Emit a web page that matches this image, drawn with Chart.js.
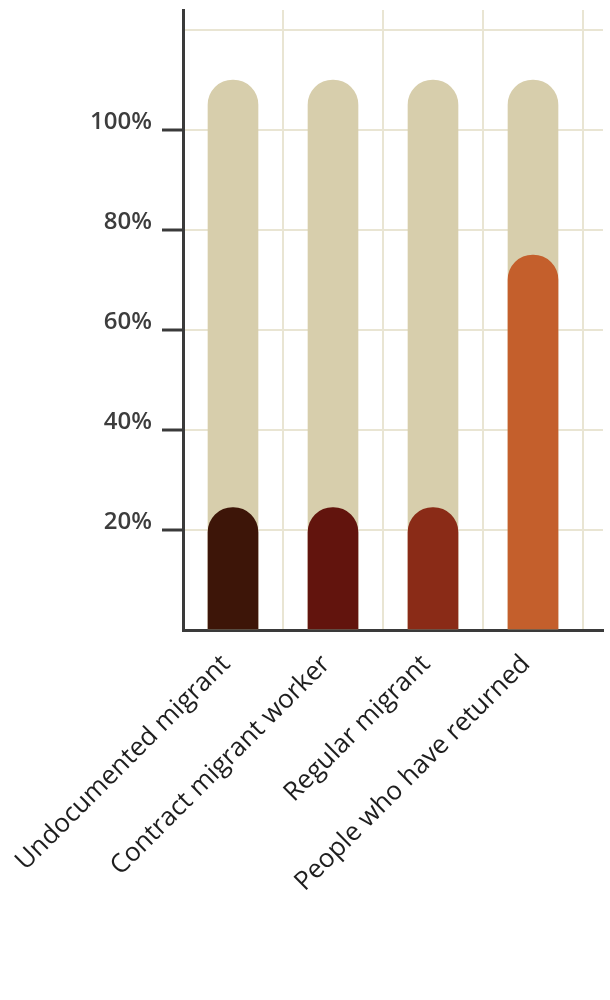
<!DOCTYPE html>
<html>
<head>
<meta charset="utf-8">
<script src="https://cdn.jsdelivr.net/npm/chart.js@4"></script>
<style>
  body { margin: 0; background: #fff; }
  #wrap { width: 610px; height: 1000px; }
</style>
</head>
<body>
<div id="wrap"><canvas id="chart" width="610" height="1000"></canvas></div>
<script>
const categories = ['Undocumented migrant', 'Contract migrant worker', 'Regular migrant', 'People who have returned']
const trackValues = [110, 110, 110, 110]
const shareValues = [24.5, 24.5, 24.5, 75]
const barColors = ['#3d1508', '#62140d', '#8a2b17', '#c45f2c']
const yTicks = [0, 20, 40, 60, 80, 100, 120]
const yLabelled = [20, 40, 60, 80, 100]

const gridColor = '#e9e5d3'
const axisColor = '#3a3a3a'

// categories sit on 1..4, gridlines between them on the half steps
const toPoints = values => values.map((v, i) => ({ x: i + 1, y: v }))
const xTicks = []
for (let i = 0; i <= categories.length; i++) {
  xTicks.push(i + 0.5)
  if (i < categories.length) xTicks.push(i + 1)
}

const barStyle = {
  barThickness: 50,
  borderRadius: { topLeft: 25, topRight: 25 },
  borderSkipped: 'bottom',
  grouped: false
}

// no extra room for the rotated / edge labels, the plot fills its box
function noPadding(scale) {
  scale.paddingLeft = 0
  scale.paddingRight = 0
  scale.paddingTop = 0
  scale.paddingBottom = 0
}

new Chart(document.getElementById('chart'), {
  type: 'bar',
  data: {
    datasets: [
      Object.assign({ label: 'Share', data: toPoints(shareValues), backgroundColor: barColors, order: 1 }, barStyle),
      Object.assign({ label: 'Total', data: toPoints(trackValues), backgroundColor: '#d7ceac', order: 2 }, barStyle)
    ]
  },
  options: {
    responsive: false,
    animation: false,
    layout: { padding: { top: 10, right: 7, left: 0, bottom: 0 } },
    plugins: { legend: { display: false }, tooltip: { enabled: false } },
    scales: {
      x: {
        type: 'linear',
        min: 0.5,
        max: 4.7,
        offset: false,
        afterBuildTicks: scale => { scale.ticks = xTicks.map(v => ({ value: v })) },
        afterFit: scale => { scale.height = 370; noPadding(scale) },
        border: { color: axisColor, width: 3 },
        grid: {
          offset: false,
          drawTicks: false,
          lineWidth: 2,
          color: ctx => (ctx.tick && ctx.tick.value % 1 !== 0) ? gridColor : 'rgba(0,0,0,0)'
        },
        ticks: {
          autoSkip: false,
          minRotation: 45,
          maxRotation: 45,
          padding: 19,
          labelOffset: -7,
          color: '#1e1e1e',
          font: { family: 'Open Sans', size: 26 },
          callback: v => v % 1 === 0 ? categories[v - 1] : ''
        }
      },
      y: {
        min: 0,
        max: 124,
        afterBuildTicks: scale => { scale.ticks = yTicks.map(v => ({ value: v })) },
        afterFit: scale => { scale.width = 183; noPadding(scale) },
        border: { color: axisColor, width: 3 },
        grid: {
          lineWidth: 2,
          color: gridColor,
          tickLength: 21,
          tickWidth: 3,
          tickColor: ctx => yLabelled.includes(ctx.tick && ctx.tick.value) ? axisColor : 'rgba(0,0,0,0)'
        },
        ticks: {
          padding: 10,
          labelOffset: -8,
          color: '#3d3d3d',
          font: { family: 'Open Sans', size: 24, weight: '600' },
          callback: v => yLabelled.includes(v) ? v + '%' : ''
        }
      }
    }
  }
})
</script>
</body>
</html>
